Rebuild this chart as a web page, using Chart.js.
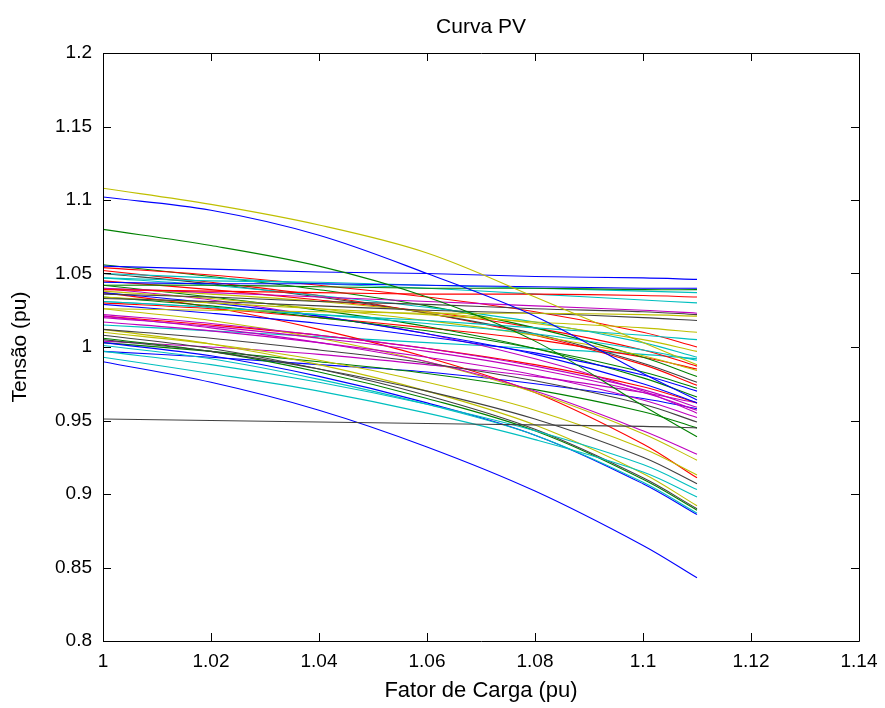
<!DOCTYPE html>
<html>
<head>
<meta charset="utf-8">
<title>Curva PV</title>
<script src="https://cdn.jsdelivr.net/npm/chart.js@4.4.1/dist/chart.umd.min.js"></script>
<style>
  html, body { margin: 0; padding: 0; background: #fff; }
  #wrap { width: 885px; height: 708px; }
</style>
</head>
<body>
<div id="wrap"><canvas id="pv" width="885" height="708"></canvas></div>
<script>
// fator de carga (eixo x) onde cada tensao foi lida
const fatorCarga = [1.00, 1.02, 1.04, 1.06, 1.08, 1.10, 1.11];

const xTicks = [1, 1.02, 1.04, 1.06, 1.08, 1.10, 1.12, 1.14];
const xTickLabels = ['1', '1.02', '1.04', '1.06', '1.08', '1.1', '1.12', '1.14'];
const yTicks = [0.8, 0.85, 0.9, 0.95, 1.0, 1.05, 1.1, 1.15, 1.2];
const yTickLabels = ['0.8', '0.85', '0.9', '0.95', '1', '1.05', '1.1', '1.15', '1.2'];

const titulo = 'Curva PV';
const tituloX = 'Fator de Carga (pu)';
const tituloY = 'Tensão (pu)';

// tensao (pu) por barra
const barra01 = [1.108, 1.097, 1.083, 1.064, 1.034, 1.003, 0.988];
const barra02 = [1.102, 1.093, 1.076, 1.050, 1.021, 0.982, 0.964];
const barra03 = [1.080, 1.069, 1.055, 1.034, 1.004, 0.960, 0.939];
const barra04 = [1.055, 1.053, 1.051, 1.050, 1.048, 1.047, 1.046];
const barra05 = [0.951, 0.950, 0.949, 0.948, 0.947, 0.946, 0.945];
const barra06 = [0.990, 0.976, 0.957, 0.932, 0.902, 0.865, 0.843];
const barra07 = [1.044, 1.043, 1.043, 1.042, 1.041, 1.040, 1.040];
const barra08 = [1.042, 1.042, 1.041, 1.040, 1.040, 1.039, 1.039];
const barra09 = [1.047, 1.045, 1.044, 1.042, 1.040, 1.038, 1.037];
const barra10 = [1.039, 1.038, 1.037, 1.036, 1.036, 1.035, 1.034];
const barra11 = [1.050, 1.047, 1.043, 1.040, 1.036, 1.032, 1.030];
const barra12 = [1.040, 1.037, 1.034, 1.031, 1.028, 1.025, 1.023];
const barra13 = [1.036, 1.034, 1.031, 1.029, 1.026, 1.024, 1.022];
const barra14 = [1.026, 1.025, 1.024, 1.023, 1.023, 1.022, 1.021];
const barra15 = [1.033, 1.031, 1.028, 1.025, 1.023, 1.020, 1.018];
const barra16 = [1.034, 1.030, 1.026, 1.022, 1.017, 1.013, 1.010];
const barra17 = [1.031, 1.027, 1.022, 1.018, 1.013, 1.008, 1.005];
const barra18 = [1.054, 1.049, 1.042, 1.034, 1.024, 1.010, 1.000];
const barra19 = [1.040, 1.036, 1.031, 1.024, 1.016, 1.005, 0.997];
const barra20 = [1.047, 1.042, 1.035, 1.027, 1.017, 1.003, 0.993];
const barra21 = [1.031, 1.027, 1.022, 1.016, 1.009, 0.998, 0.991];
const barra22 = [1.038, 1.033, 1.026, 1.018, 1.008, 0.994, 0.984];
const barra23 = [1.056, 1.048, 1.039, 1.028, 1.013, 0.993, 0.980];
const barra24 = [1.050, 1.043, 1.034, 1.023, 1.009, 0.989, 0.976];
const barra25 = [1.052, 1.044, 1.035, 1.023, 1.008, 0.988, 0.974];
const barra26 = [1.034, 1.028, 1.020, 1.011, 0.999, 0.983, 0.972];
const barra27 = [1.029, 1.023, 1.016, 1.007, 0.996, 0.981, 0.970];
const barra28 = [1.042, 1.034, 1.025, 1.014, 0.999, 0.979, 0.966];
const barra29 = [1.037, 1.030, 1.021, 1.009, 0.995, 0.975, 0.962];
const barra30 = [1.022, 1.016, 1.008, 0.999, 0.987, 0.971, 0.959];
const barra31 = [1.020, 1.014, 1.006, 0.997, 0.985, 0.969, 0.957];
const barra32 = [1.040, 1.032, 1.021, 1.009, 0.992, 0.970, 0.955];
const barra33 = [1.017, 1.011, 1.003, 0.993, 0.981, 0.964, 0.952];
const barra34 = [1.012, 1.006, 0.998, 0.989, 0.977, 0.961, 0.949];
const barra35 = [1.021, 1.013, 1.003, 0.990, 0.970, 0.943, 0.927];
const barra36 = [1.026, 1.018, 1.006, 0.990, 0.969, 0.941, 0.923];
const barra37 = [1.010, 1.002, 0.991, 0.976, 0.957, 0.931, 0.913];
const barra38 = [1.037, 1.027, 1.012, 0.993, 0.969, 0.934, 0.911];
const barra39 = [1.005, 0.997, 0.985, 0.970, 0.951, 0.925, 0.907];
const barra40 = [0.997, 0.988, 0.976, 0.961, 0.943, 0.920, 0.903];
const barra41 = [0.993, 0.982, 0.970, 0.955, 0.937, 0.915, 0.898];
const barra42 = [1.012, 1.002, 0.988, 0.970, 0.947, 0.914, 0.892];
const barra43 = [1.008, 0.999, 0.985, 0.967, 0.944, 0.911, 0.890];
const barra44 = [1.006, 0.997, 0.983, 0.965, 0.943, 0.910, 0.889];
const barra45 = [1.001, 0.992, 0.978, 0.961, 0.940, 0.908, 0.887];
const barra46 = [1.003, 0.994, 0.980, 0.962, 0.940, 0.907, 0.886];
const barra47 = [1.021, 1.015, 1.008, 0.999, 0.988, 0.973, 0.962];
const barra48 = [1.003, 0.997, 0.990, 0.982, 0.971, 0.956, 0.945];
const barra49 = [1.004, 1.000, 0.995, 0.988, 0.980, 0.969, 0.962];
const barra50 = [1.030, 1.026, 1.020, 1.013, 1.005, 0.993, 0.985];
const barra51 = [1.045, 1.039, 1.032, 1.024, 1.013, 0.998, 0.987];
const barra52 = [0.997, 0.993, 0.988, 0.983, 0.975, 0.965, 0.958];
const barra53 = [1.015, 1.011, 1.007, 1.003, 0.999, 0.995, 0.992];

const barras = [
  barra01, barra02, barra03, barra04, barra05, barra06, barra07, barra08, barra09, barra10,
  barra11, barra12, barra13, barra14, barra15, barra16, barra17, barra18, barra19, barra20,
  barra21, barra22, barra23, barra24, barra25, barra26, barra27, barra28, barra29, barra30,
  barra31, barra32, barra33, barra34, barra35, barra36, barra37, barra38, barra39, barra40,
  barra41, barra42, barra43, barra44, barra45, barra46, barra47, barra48, barra49, barra50,
  barra51, barra52, barra53
];
// cor de cada barra (ordem de cores do matlab)
const corBarra = [
  'y','b','g','b','k','b','b','g','c','r',
  'c','m','k','y','k','y','c','r','y','c',
  'c','y','g','k','r','g','b','g','b','m',
  'm','m','m','k','m','y','y','r','k','c',
  'c','y','k','g','c','b','r','g','m','r',
  'r','b','c'
];

const PALETA = { b:'#0000ff', g:'#008000', r:'#ff0000', c:'#00bfbf', m:'#bf00bf', y:'#bfbf00', k:'#404040' };
const FONTE = "'Liberation Sans', Arial, Helvetica, sans-serif";

// moldura com marcas de escala para dentro (estilo matlab) + titulo centrado na area do grafico
const moldura = {
  id: 'moldura',
  afterDraw(chart){
    const { ctx, chartArea: a, scales: { x, y } } = chart;
    const L = 8;
    ctx.save();
    ctx.strokeStyle = '#000';
    ctx.lineWidth = 1;
    ctx.beginPath();
    ctx.rect(Math.round(a.left) + 0.5, Math.round(a.top) + 0.5,
             Math.round(a.right - a.left), Math.round(a.bottom - a.top));
    xTicks.forEach(v => {
      const px = Math.round(x.getPixelForValue(v)) + 0.5;
      ctx.moveTo(px, a.bottom); ctx.lineTo(px, a.bottom - L);
      ctx.moveTo(px, a.top); ctx.lineTo(px, a.top + L);
    });
    yTicks.forEach(v => {
      const py = Math.round(y.getPixelForValue(v)) + 0.5;
      ctx.moveTo(a.left, py); ctx.lineTo(a.left + L, py);
      ctx.moveTo(a.right, py); ctx.lineTo(a.right - L, py);
    });
    ctx.stroke();

    ctx.fillStyle = '#000';
    ctx.font = '21px ' + FONTE;
    ctx.textAlign = 'center';
    ctx.textBaseline = 'middle';
    ctx.fillText(titulo, (a.left + a.right) / 2, 27);
    ctx.restore();
  }
};

const datasets = barras.map((serie, i) => ({
  label: 'Barra ' + (i + 1),
  data: fatorCarga.map((f, k) => ({ x: f, y: serie[k] })),
  borderColor: PALETA[corBarra[i]],
  borderWidth: 1.1,
  pointRadius: 0,
  fill: false,
  tension: 0.35
}));

new Chart(document.getElementById('pv').getContext('2d'), {
  type: 'line',
  data: { datasets },
  plugins: [moldura],
  options: {
    responsive: false,
    animation: false,
    devicePixelRatio: 1,
    layout: { padding: { top: 53, right: 26, bottom: 0, left: 0 } },
    plugins: {
      legend: { display: false },
      tooltip: { enabled: false },
      title: { display: false }
    },
    scales: {
      x: {
        type: 'linear',
        min: 1, max: 1.14,
        grid: { display: false },
        border: { display: false },
        afterBuildTicks: s => { s.ticks = xTicks.map(v => ({ value: v })); },
        afterFit: s => { s.height = 67; },
        ticks: {
          color: '#000', padding: 1, maxRotation: 0, autoSkip: false,
          font: { family: FONTE, size: 19 },
          callback: (v, i) => xTickLabels[i]
        },
        title: {
          display: true, text: tituloX, color: '#000',
          font: { family: FONTE, size: 22 },
          padding: { top: 0, bottom: 4 }
        }
      },
      y: {
        type: 'linear',
        min: 0.8, max: 1.2,
        grid: { display: false },
        border: { display: false },
        afterBuildTicks: s => { s.ticks = yTicks.map(v => ({ value: v })); },
        afterFit: s => { s.width = 103; },
        ticks: {
          color: '#000', padding: 3, autoSkip: false,
          font: { family: FONTE, size: 19 },
          callback: (v, i) => yTickLabels[i]
        },
        title: {
          display: true, text: tituloY, color: '#000',
          font: { family: FONTE, size: 21 },
          padding: { top: 8, bottom: 0 }
        }
      }
    }
  }
});
</script>
</body>
</html>
